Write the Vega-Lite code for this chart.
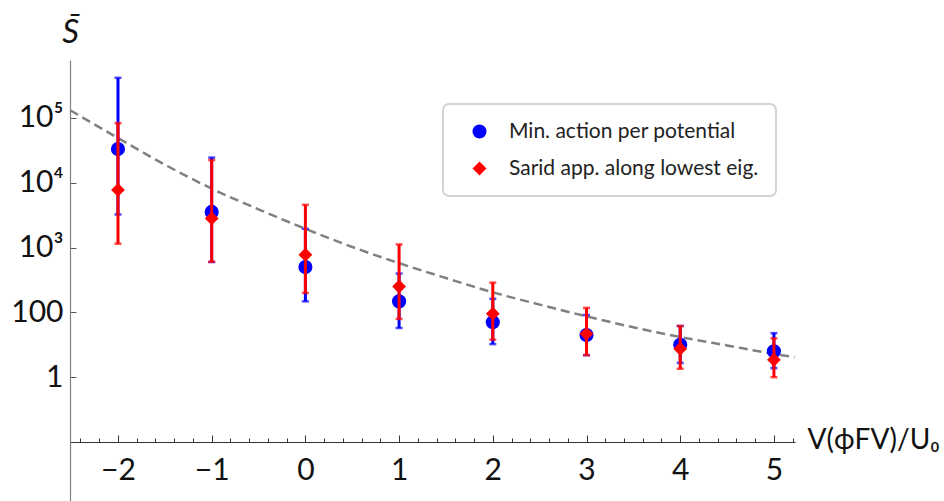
{
  "$schema": "https://vega.github.io/schema/vega-lite/v6.json",
  "width": 725,
  "height": 441,
  "autosize": "none",
  "padding": {"left": 70, "top": 60, "right": 149, "bottom": 0},
  "background": "white",
  "config": {
    "view": {"stroke": null},
    "font": "Lato",
    "axis": {"grid": false, "labelFont": "Lato", "titleFont": "Lato", "labelColor": "#111", "titleColor": "#111"},
    "legend": {"strokeWidth": 2}
  },
  "resolve": {"axis": {"x": "independent"}},
  "datasets": {
    "pts": [
      {"series": "Min. action per potential", "x": -2, "y": 33100, "lo": 3240, "hi": 417000},
      {"series": "Min. action per potential", "x": -1, "y": 3550, "lo": 600, "hi": 24500},
      {"series": "Min. action per potential", "x": 0, "y": 501, "lo": 148, "hi": 1950},
      {"series": "Min. action per potential", "x": 1, "y": 148, "lo": 57.5, "hi": 398},
      {"series": "Min. action per potential", "x": 2, "y": 70.8, "lo": 32.4, "hi": 162},
      {"series": "Min. action per potential", "x": 3, "y": 44.7, "lo": 21.9, "hi": 91.2},
      {"series": "Min. action per potential", "x": 4, "y": 31.6, "lo": 16.6, "hi": 61.7},
      {"series": "Min. action per potential", "x": 5, "y": 25.1, "lo": 13.8, "hi": 47.9},
      {"series": "Sarid app. along lowest eig.", "x": -2, "y": 7760, "lo": 1150, "hi": 83200},
      {"series": "Sarid app. along lowest eig.", "x": -1, "y": 2820, "lo": 603, "hi": 22400},
      {"series": "Sarid app. along lowest eig.", "x": 0, "y": 776, "lo": 200, "hi": 4570},
      {"series": "Sarid app. along lowest eig.", "x": 1, "y": 251, "lo": 79.4, "hi": 1120},
      {"series": "Sarid app. along lowest eig.", "x": 2, "y": 95.5, "lo": 38, "hi": 288},
      {"series": "Sarid app. along lowest eig.", "x": 3, "y": 46.8, "lo": 21.9, "hi": 117.5},
      {"series": "Sarid app. along lowest eig.", "x": 4, "y": 27.5, "lo": 13.5, "hi": 61.7},
      {"series": "Sarid app. along lowest eig.", "x": 5, "y": 18.6, "lo": 10, "hi": 39.8}
    ],
    "curve": [
      {"x": -2.51, "y": 131800},
      {"x": -2, "y": 48980},
      {"x": -1.5, "y": 19050},
      {"x": -1, "y": 8130},
      {"x": -0.5, "y": 3890},
      {"x": 0, "y": 1950},
      {"x": 0.5, "y": 1023},
      {"x": 1, "y": 575},
      {"x": 1.5, "y": 339},
      {"x": 2, "y": 204},
      {"x": 2.5, "y": 132},
      {"x": 3, "y": 87},
      {"x": 3.5, "y": 59},
      {"x": 4, "y": 41.7},
      {"x": 4.5, "y": 30.9},
      {"x": 5, "y": 22.9},
      {"x": 5.22, "y": 20.4}
    ]
  },
  "layer": [
    {
      "data": {"name": "curve"},
      "mark": {"type": "line", "color": "#808080", "strokeWidth": 2.5, "strokeDash": [9, 5], "interpolate": "monotone"},
      "encoding": {
        "x": {
          "field": "x", "type": "quantitative",
          "scale": {"domain": [-2.512, 5.225], "nice": false, "zero": false},
          "axis": {
            "orient": "bottom",
            "offset": -59,
            "values": [-2, -1, 0, 1, 2, 3, 4, 5],
            "format": "d",
            "tickSize": -7,
            "tickColor": "#333",
            "tickWidth": 1,
            "domainColor": "#333",
            "domainWidth": 1.2,
            "labelFontSize": 30,
            "labelPadding": 20,
            "labelOverlap": false,
            "labelFlush": false,
            "title": "V(ϕFV)/U₀",
            "titleFontSize": 28,
            "titleFontWeight": "normal",
            "titleAngle": 0,
            "titleX": 737,
            "titleY": -2,
            "titleAlign": "left",
            "titleBaseline": "middle"
          }
        },
        "y": {
          "field": "y", "type": "quantitative", "title": "S̄",
          "scale": {"type": "log", "domain": [0.123, 785000], "nice": false},
          "axis": {
            "values": [10, 100, 1000, 10000, 100000],
            "labelExpr": "datum.value == 10 ? '1' : datum.value == 100 ? '100' : datum.value == 1000 ? '10³' : datum.value == 10000 ? '10⁴' : '10⁵'",
            "tickSize": -6,
            "tickColor": "#555",
            "domainColor": "#808080",
            "domainWidth": 1.2,
            "labelFontSize": 30,
            "labelPadding": 13,
            "labelBaseline": "middle",
            "title": "S̄",
            "titleFontSize": 33,
            "titleFontStyle": "italic",
            "titleFontWeight": "normal",
            "titleAngle": 0,
            "titleX": 0,
            "titleY": -28,
            "titleAlign": "center",
            "titleBaseline": "middle"
          }
        }
      }
    },
    {
      "data": {"name": "pts"},
      "transform": [{"filter": "datum.series == 'Min. action per potential'"}],
      "mark": {"type": "errorbar", "color": "#0000ff", "thickness": 3, "ticks": {"size": 7, "thickness": 2.5, "color": "#0000ff"}},
      "encoding": {
        "x": {"field": "x", "type": "quantitative", "axis": null},
        "y": {"field": "lo", "type": "quantitative", "title": "S̄"},
        "y2": {"field": "hi"}
      }
    },
    {
      "data": {"name": "pts"},
      "transform": [{"filter": "datum.series == 'Min. action per potential'"}],
      "mark": {"type": "point", "filled": true, "opacity": 1, "size": 200, "strokeWidth": 0},
      "encoding": {
        "x": {"field": "x", "type": "quantitative", "axis": null},
        "y": {"field": "y", "type": "quantitative", "title": "S̄"},
        "color": {"field": "series", "type": "nominal",
          "scale": {"domain": ["Min. action per potential", "Sarid app. along lowest eig."], "range": ["#0000ff", "#ff0000"]},
          "legend": {"orient": "none", "legendX": 373, "legendY": 44, "title": null, "strokeColor": "#d4d4d4", "cornerRadius": 6, "padding": 17, "fillColor": "white", "symbolSize": 196, "labelFontSize": 21, "labelFont": "Lato", "labelColor": "#222", "labelLimit": 500, "rowPadding": 15, "symbolOffset": 9, "labelOffset": 19, "symbolStrokeWidth": 0}},
        "shape": {"field": "series", "type": "nominal",
          "scale": {"domain": ["Min. action per potential", "Sarid app. along lowest eig."], "range": ["circle", "diamond"]},
          "legend": {"orient": "none", "legendX": 373, "legendY": 44, "title": null, "labelLimit": 500}}
      }
    },
    {
      "data": {"name": "pts"},
      "transform": [{"filter": "datum.series == 'Sarid app. along lowest eig.'"}],
      "mark": {"type": "errorbar", "color": "#ff0000", "thickness": 3, "ticks": {"size": 7, "thickness": 2.5, "color": "#ff0000"}},
      "encoding": {
        "x": {"field": "x", "type": "quantitative", "axis": null},
        "y": {"field": "lo", "type": "quantitative", "title": "S̄"},
        "y2": {"field": "hi"}
      }
    },
    {
      "data": {"name": "pts"},
      "transform": [{"filter": "datum.series == 'Sarid app. along lowest eig.'"}],
      "mark": {"type": "point", "filled": true, "opacity": 1, "size": 190, "strokeWidth": 0},
      "encoding": {
        "x": {"field": "x", "type": "quantitative",
          "axis": {
            "orient": "bottom",
            "offset": -59,
            "values": [-2.4, -2.2, -1.8, -1.6, -1.4, -1.2, -0.8, -0.6, -0.4, -0.2, 0.2, 0.4, 0.6, 0.8, 1.2, 1.4, 1.6, 1.8, 2.2, 2.4, 2.6, 2.8, 3.2, 3.4, 3.6, 3.8, 4.2, 4.4, 4.6, 4.8, 5.2],
            "labels": false,
            "domain": false,
            "tickSize": -4,
            "tickColor": "#333",
            "tickWidth": 1,
            "title": null
          }
        },
        "y": {"field": "y", "type": "quantitative", "title": "S̄"},
        "color": {"field": "series", "type": "nominal"},
        "shape": {"field": "series", "type": "nominal"}
      }
    }
  ]
}
